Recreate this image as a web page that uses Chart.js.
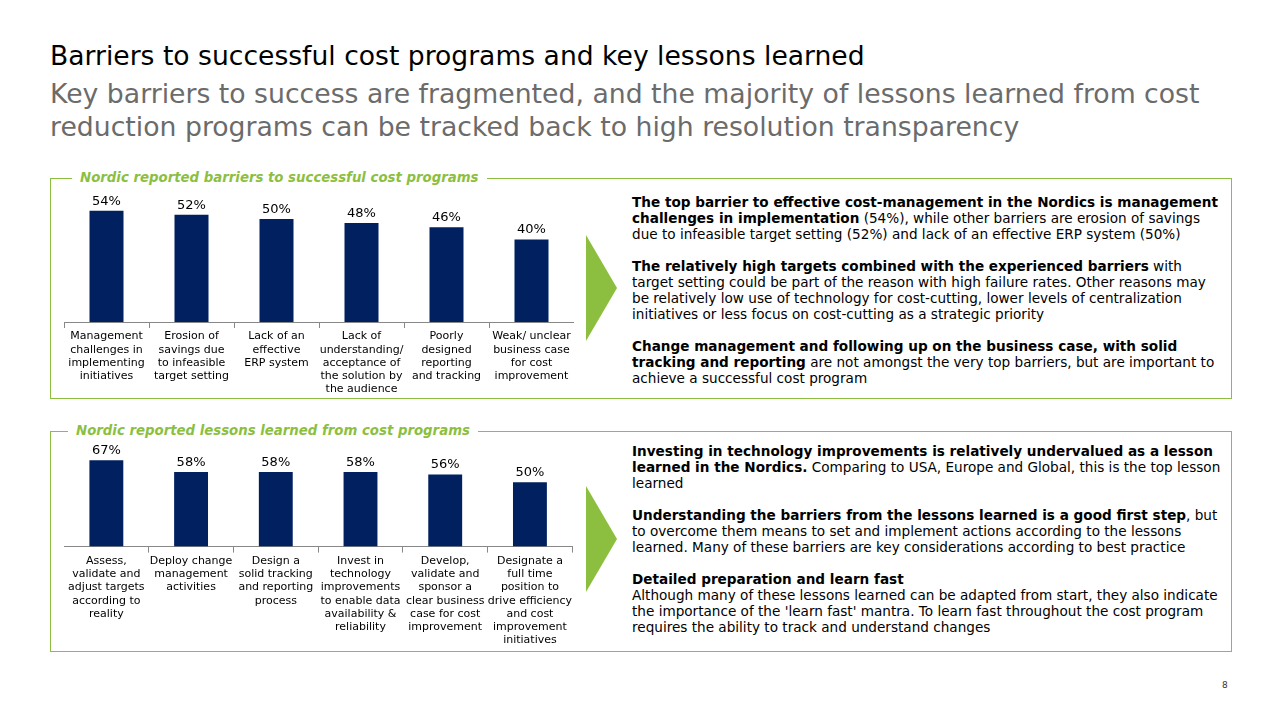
<!DOCTYPE html>
<html><head><meta charset="utf-8">
<script src="https://cdn.jsdelivr.net/npm/chart.js@4"></script>
<style>
body{margin:0;width:1280px;height:720px;background:#fff;font-family:"DejaVu Sans",Verdana,sans-serif;position:relative;overflow:hidden}
.abs{position:absolute}
h1{position:absolute;left:50px;top:40px;margin:0;font-weight:normal;font-size:26.6px;color:#000}
h2{position:absolute;left:50px;top:77px;margin:0;font-weight:normal;font-size:26.7px;line-height:33px;color:#6b6b6b;width:1200px}
.box{position:absolute;left:50px;width:1180px;height:219px;border:1px solid #8cbf3f}
.lbl{position:absolute;background:#fff;color:#8cbf3f;font-weight:bold;font-style:italic;font-size:13.3px;padding:0 8px}
.arrow{position:absolute;width:31px;height:106px;background:#8cbf3f;clip-path:polygon(0 0,100% 50%,0 100%,0 100%,0 0)}
.txt{position:absolute;left:632px;width:592px;font-size:13.6px;line-height:16px;color:#000}
.txt p{margin:0 0 16px 0}
.num{position:absolute;left:1222px;top:680px;font-size:9px;color:#333}
</style></head><body>
<h1>Barriers to successful cost programs and key lessons learned</h1>
<h2>Key barriers to success are fragmented, and the majority of lessons learned from cost reduction programs can be tracked back to high resolution transparency</h2>

<div class="box" style="top:178px"></div>
<div class="lbl" style="left:72px;top:170px">Nordic reported barriers to successful cost programs</div>
<div class="abs" style="left:64px;top:188px;width:510px;height:210px"><canvas id="c1"></canvas></div>
<div class="arrow" style="left:586px;top:235px"></div>
<div class="txt" style="top:194px">
<p><b>The top barrier to effective cost-management in the Nordics is management challenges in implementation</b> (54%), while other barriers are erosion of savings due to infeasible target setting (52%) and lack of an effective ERP system (50%)</p>
<p><b>The relatively high targets combined with the experienced barriers</b> with target setting could be part of the reason with high failure rates. Other reasons may be relatively low use of technology for cost-cutting, lower levels of centralization initiatives or less focus on cost-cutting as a strategic priority</p>
<p><b>Change management and following up on the business case, with solid tracking and reporting</b> are not amongst the very top barriers, but are important to achieve a successful cost program</p>
</div>

<div class="box" style="top:431px"></div>
<div class="lbl" style="left:68px;top:423px">Nordic reported lessons learned from cost programs</div>
<div class="abs" style="left:64px;top:441px;width:510px;height:208px"><canvas id="c2"></canvas></div>
<div class="arrow" style="left:586px;top:486px"></div>
<div class="txt" style="top:443px">
<p><b>Investing in technology improvements is relatively undervalued as a lesson learned in the Nordics.</b> Comparing to USA, Europe and Global, this is the top lesson learned</p>
<p><b>Understanding the barriers from the lessons learned is a good first step</b>, but to overcome them means to set and implement actions according to the lessons learned. Many of these barriers are key considerations according to best practice</p>
<p><b>Detailed preparation and learn fast</b><br>Although many of these lessons learned can be adapted from start, they also indicate the importance of the 'learn fast' mantra. To learn fast throughout the cost program requires the ability to track and understand changes</p>
</div>
<div class="num">8</div>

<script>
// barriers chart data
var barrierLabels = [
  ["Management","challenges in","implementing","initiatives"],
  ["Erosion of","savings due","to infeasible","target setting"],
  ["Lack of an","effective","ERP system"],
  ["Lack of","understanding/","acceptance of","the solution by","the audience"],
  ["Poorly","designed","reporting","and tracking"],
  ["Weak/ unclear","business case","for cost","improvement"]
];
var barrierValues = [54, 52, 50, 48, 46, 40];

// lessons chart data
var lessonLabels = [
  ["Assess,","validate and","adjust targets","according to","reality"],
  ["Deploy change","management","activities"],
  ["Design a","solid tracking","and reporting","process"],
  ["Invest in","technology","improvements","to enable data","availability &","reliability"],
  ["Develop,","validate and","sponsor a","clear business","case for cost","improvement"],
  ["Designate a","full time","position to","drive efficiency","and cost","improvement","initiatives"]
];
var lessonValues = [67, 58, 58, 58, 56, 50];

Chart.defaults.font.family = '"DejaVu Sans", Verdana, sans-serif';
Chart.defaults.animation = false;

// draws the % above each bar
var valueLabels = {
  id: 'valueLabels',
  afterDatasetsDraw: function (chart) {
    var ctx = chart.ctx;
    ctx.save();
    ctx.font = '13px "DejaVu Sans", Verdana, sans-serif';
    ctx.fillStyle = '#000';
    ctx.textAlign = 'center';
    ctx.textBaseline = 'bottom';
    chart.getDatasetMeta(0).data.forEach(function (bar, i) {
      ctx.fillText(chart.data.datasets[0].data[i] + '%', bar.x, bar.y - 3);
    });
    ctx.restore();
  }
};

function makeChart(id, labels, values, ymax) {
  return new Chart(document.getElementById(id), {
    type: 'bar',
    data: {
      labels: labels,
      datasets: [{ data: values, backgroundColor: '#002060', barPercentage: 0.4, categoryPercentage: 1 }]
    },
    options: {
      responsive: true,
      maintainAspectRatio: false,
      plugins: { legend: { display: false }, tooltip: { enabled: false } },
      scales: {
        y: { display: false, min: 0, max: ymax },
        x: {
          grid: { display: true, drawOnChartArea: false, offset: true, tickLength: 6, color: '#888' },
          border: { color: '#888' },
          ticks: { color: '#000', font: { size: 11 }, maxRotation: 0, autoSkip: false, padding: 2 }
        }
      }
    },
    plugins: [valueLabels]
  });
}

makeChart('c1', barrierLabels, barrierValues, 65);
makeChart('c2', lessonLabels, lessonValues, 82);
</script>
</body></html>
